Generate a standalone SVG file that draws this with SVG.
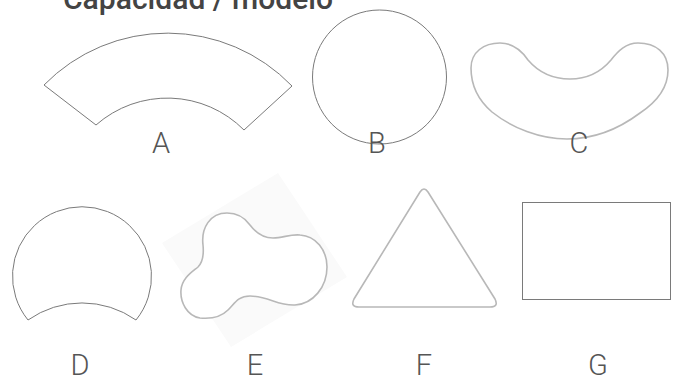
<svg xmlns="http://www.w3.org/2000/svg" width="677" height="377" viewBox="0 0 677 377">
<style>
.lbl{font-family:Roboto,"Liberation Sans",Arial,sans-serif;font-weight:300;font-size:29px;fill:#555;text-anchor:middle}
.title{font-family:Roboto,"Liberation Sans",Arial,sans-serif;font-size:30px;fill:#444;font-weight:500}
.thin{fill:#fff;stroke:#7a7a7a;stroke-width:1}
.soft{fill:#fff;stroke:#b8b8b8;stroke-width:1.6}
</style>
<rect width="677" height="377" fill="#fff"/>
<text class="title" x="63" y="9" textLength="270" lengthAdjust="spacingAndGlyphs">Capacidad / modelo</text>
<g id="A">
<path class="thin" d="M44,85 A173,173 0 0 1 292,86 L244,130 A108,108 0 0 0 96,125 Z"/>
<text class="lbl" x="161" y="153">A</text>
</g>
<g id="B">
<circle class="thin" cx="379.5" cy="77" r="67"/>
<text class="lbl" x="377" y="153">B</text>
</g>
<g id="C">
<path class="soft" d="M471,68 C471,52 484,43 500,43 C514,43 522,51 528,60 C540,74 555,79 570,79 C586,79 600,73 611,60 C618,51 626,43 638,43 C656,43 668,53 668,70 C668,86 658,101 640,113 C620,128 595,139 567,139 C540,139 512,128 492,112 C478,100 471,85 471,68 Z"/>
<text class="lbl" x="579" y="153">C</text>
</g>
<g id="D">
<path class="thin" d="M28,320 A69.5,69.5 0 1 1 136,320 A94,94 0 0 0 28,320 Z"/>
<text class="lbl" x="80" y="375">D</text>
</g>
<g id="E">
<polygon points="278,173 347,277 231,347 162,243" fill="#fafafa"/>
<path class="soft" d="M203,245 C201,228 210,213 227,213 C238,213 245,218 250,225 C256,233 263,238 273,238 C283,238 290,234 300,235 C316,236 327,250 327,267 C327,287 313,304 295,305 C278,306 268,296 250,296 C238,296 235,303 228,310 C220,318 210,319 200,318 C187,316 180,302 181,290 C182,278 192,272 198,267 C203,262 204,255 203,245 Z"/>
<text class="lbl" x="255" y="375">E</text>
</g>
<g id="F">
<path class="soft" d="M420,192 Q424,186 428,192 L495,299 Q499,307 490,307 L359,307 Q350,307 354,299 Z"/>
<text class="lbl" x="424" y="375">F</text>
</g>
<g id="G">
<rect class="thin" x="522.5" y="202.5" width="148" height="97"/>
<text class="lbl" x="598" y="375">G</text>
</g>
</svg>
